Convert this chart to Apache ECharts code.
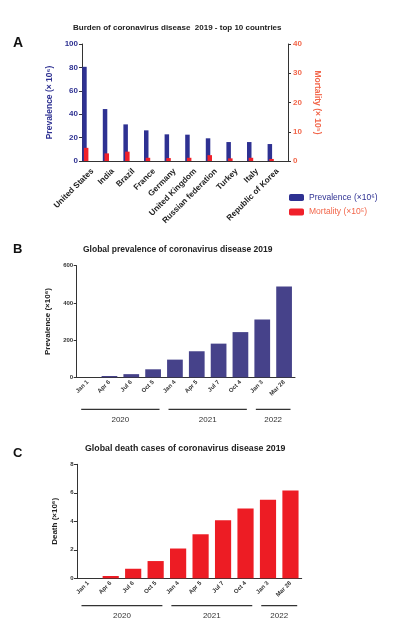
<!DOCTYPE html>
<html><head><meta charset="utf-8">
<script src="https://cdn.jsdelivr.net/npm/echarts@6/dist/echarts.min.js"></script>
<style>html,body{margin:0;padding:0;background:#fff}#c{width:394px;height:625px}</style>
</head><body><div id="c"></div>
<script>
// ---- data ----
const countries = ['United States','India','Brazil','France','Germany','United Kingdom','Russian federation','Turkey','Italy','Republic of Korea'];
const prevalenceByCountry = [80.5, 44.4, 31.3, 26.2, 22.8, 22.5, 19.4, 16.2, 16.2, 14.5];
const mortalityByCountry = [4.5, 2.6, 3.2, 1.1, 1.0, 1.1, 2.0, 0.9, 1.1, 0.7];
const dates = ['Jan 1','Apr 6','Jul 6','Oct 5','Jan 4','Apr 5','Jul 7','Oct 4','Jan 3','Mar 28'];
const globalPrevalence = [0, 7, 17, 43, 95, 140, 181, 243, 311, 488];
const globalDeaths = [0, 0.16, 0.67, 1.21, 2.09, 3.09, 4.08, 4.9, 5.52, 6.17];
const years = ['2020','2021','2022'];
const yearStart = ['Jan 1','Jan 4','Jan 3'];
const yearEnd = ['Oct 5','Oct 4','Mar 28'];
const prevTicks = [0, 20, 40, 60, 80, 100];
const mortTicks = [0, 10, 20, 30, 40];

const FONT = '"Liberation Sans", Arial, sans-serif';
const BLUE = '#2e3192', RED = '#f0202a', ORANGE = '#f2664a', PURPLE = '#46428a', CRED = '#ed1c24', AX = '#333';

const chart = echarts.init(document.getElementById('c'), null, {renderer:'canvas'});

function bracketSeries(xi, yi, lineOff, labelOff) {
  return {
    type:'custom', xAxisIndex:xi, yAxisIndex:yi, silent:true, clip:false, z:5,
    encode:{x:[0,1], y:2},
    data: years.map((y,i)=>[dates.indexOf(yearStart[i]), dates.indexOf(yearEnd[i]), 0]),
    renderItem(params, api) {
      const a = api.coord([api.value(0), 0]);
      const b = api.coord([api.value(1), 0]);
      const half = api.size([1,0])[0]/2;
      const inset = 4.5;
      const x1 = a[0]-half+inset, x2 = b[0]+half-inset, y = a[1]+lineOff;
      return {type:'group', children:[
        {type:'line', shape:{x1:x1,y1:y,x2:x2,y2:y}, style:{stroke:AX, lineWidth:1.3}},
        {type:'text', style:{text:years[params.dataIndex], x:(x1+x2)/2, y:y+labelOff,
          align:'center', verticalAlign:'middle', textAlign:'center', textVerticalAlign:'middle',
          fill:AX, fontSize:8, fontFamily:FONT}}
      ]};
    }
  };
}

const valAxisCommon = {
  type:'value', splitLine:{show:false},
  axisLine:{show:true, lineStyle:{color:AX, width:1}},
  axisTick:{show:true, length:3, lineStyle:{color:AX}}
};

const option = {
  animation:false,
  textStyle:{fontFamily:FONT},
  title:[
    {text:'A', left:13, top:36, padding:0, textStyle:{fontSize:14, fontWeight:'bold', color:'#111'}},
    {text:'Burden of coronavirus disease  2019 - top 10 countries', left:73, top:23.5, padding:0, textStyle:{fontSize:8, fontWeight:'bold', color:'#222'}},
    {text:'B', left:13, top:243, padding:0, textStyle:{fontSize:13, fontWeight:'bold', color:'#111'}},
    {text:'Global prevalence of coronavirus disease 2019', left:83, top:245.5, padding:0, textStyle:{fontSize:8.5, fontWeight:'bold', color:'#222'}},
    {text:'C', left:13, top:447, padding:0, textStyle:{fontSize:13, fontWeight:'bold', color:'#111'}},
    {text:'Global death cases of coronavirus disease 2019', left:85, top:444.5, padding:0, textStyle:{fontSize:8.8, fontWeight:'bold', color:'#222'}}
  ],
  legend:{
    orient:'vertical', left:289, top:193, padding:0, itemWidth:15, itemHeight:7, itemGap:5.5,
    icon:'roundRect', textStyle:{fontSize:8.5},
    data:[
      {name:'Prevalence (×10⁶)', textStyle:{color:BLUE}},
      {name:'Mortality (×10⁵)', textStyle:{color:ORANGE}}
    ]
  },
  grid:[
    {left:82, right:106, top:44, height:117},
    {left:75, right:113, top:44, height:117},
    {left:76.7, right:99, top:265.7, height:111.6},
    {left:77, right:92.3, top:464.3, height:114}
  ],
  xAxis:[
    {type:'category', gridIndex:0, data:countries, boundaryGap:true,
     axisLine:{lineStyle:{color:AX}}, axisTick:{alignWithLabel:true, length:4, lineStyle:{color:AX}},
     axisLabel:{rotate:45, interval:0, fontSize:8.2, fontWeight:'bold', color:'#222', margin:9}},
    {type:'category', gridIndex:1, data:countries, show:false},
    {type:'category', gridIndex:2, data:dates, axisLine:{lineStyle:{color:AX}}, axisTick:{show:false},
     axisLabel:{rotate:45, interval:0, fontSize:6, fontWeight:'bold', color:'#333', margin:4}},
    {type:'category', gridIndex:3, data:dates, axisLine:{lineStyle:{color:AX}}, axisTick:{show:false},
     axisLabel:{rotate:45, interval:0, fontSize:6, fontWeight:'bold', color:'#333', margin:4}}
  ],
  yAxis:[
    Object.assign({}, valAxisCommon, {gridIndex:0, position:'left', min:prevTicks[0], max:prevTicks[prevTicks.length-1], interval:prevTicks[1]-prevTicks[0],
      axisLabel:{fontSize:8, fontWeight:'bold', color:BLUE, margin:4},
      name:'Prevalence (× 10⁶)', nameLocation:'middle', nameRotate:90, nameGap:21,
      nameTextStyle:{fontSize:8.5, fontWeight:'bold', color:BLUE}}),
    Object.assign({}, valAxisCommon, {gridIndex:0, position:'right', min:mortTicks[0], max:mortTicks[mortTicks.length-1], interval:mortTicks[1]-mortTicks[0],
      axisLabel:{fontSize:8, fontWeight:'bold', color:ORANGE, margin:5},
      name:'Mortality (× 10⁵)', nameLocation:'middle', nameRotate:-90, nameGap:20,
      nameTextStyle:{fontSize:8.5, fontWeight:'bold', color:ORANGE}}),
    {type:'value', gridIndex:1, min:prevTicks[0], max:prevTicks[prevTicks.length-1], show:false},
    {type:'value', gridIndex:1, min:mortTicks[0], max:mortTicks[mortTicks.length-1], show:false},
    Object.assign({}, valAxisCommon, {gridIndex:2, min:0, max:600, interval:200,
      axisLabel:{fontSize:6, fontWeight:'bold', color:'#333', margin:3.5},
      name:'Prevalence (×10⁶)', nameLocation:'middle', nameRotate:90, nameGap:17,
      nameTextStyle:{fontSize:8, fontWeight:'bold', color:'#222'}}),
    Object.assign({}, valAxisCommon, {gridIndex:3, min:0, max:8, interval:2,
      axisLabel:{fontSize:6, fontWeight:'bold', color:'#333', margin:3.5},
      name:'Death (×10⁶)', nameLocation:'middle', nameRotate:90, nameGap:10,
      nameTextStyle:{fontSize:8, fontWeight:'bold', color:'#222'}})
  ],
  series:[
    {type:'bar', name:'Prevalence (×10⁶)', xAxisIndex:1, yAxisIndex:2, data:prevalenceByCountry,
     barWidth:4.5, barGap:'-62%', itemStyle:{color:BLUE}},
    {type:'bar', name:'Mortality (×10⁵)', xAxisIndex:1, yAxisIndex:3, data:mortalityByCountry,
     barWidth:4.5, barGap:'-62%', itemStyle:{color:RED}},
    {type:'bar', name:'Global prevalence', xAxisIndex:2, yAxisIndex:4, data:globalPrevalence,
     barCategoryGap:'28%', itemStyle:{color:PURPLE}},
    {type:'bar', name:'Global deaths', xAxisIndex:3, yAxisIndex:5, data:globalDeaths,
     barCategoryGap:'28%', itemStyle:{color:CRED}},
    bracketSeries(2, 4, 32, 10),
    bracketSeries(3, 5, 27.4, 10)
  ]
};
chart.setOption(option);
</script></body></html>
